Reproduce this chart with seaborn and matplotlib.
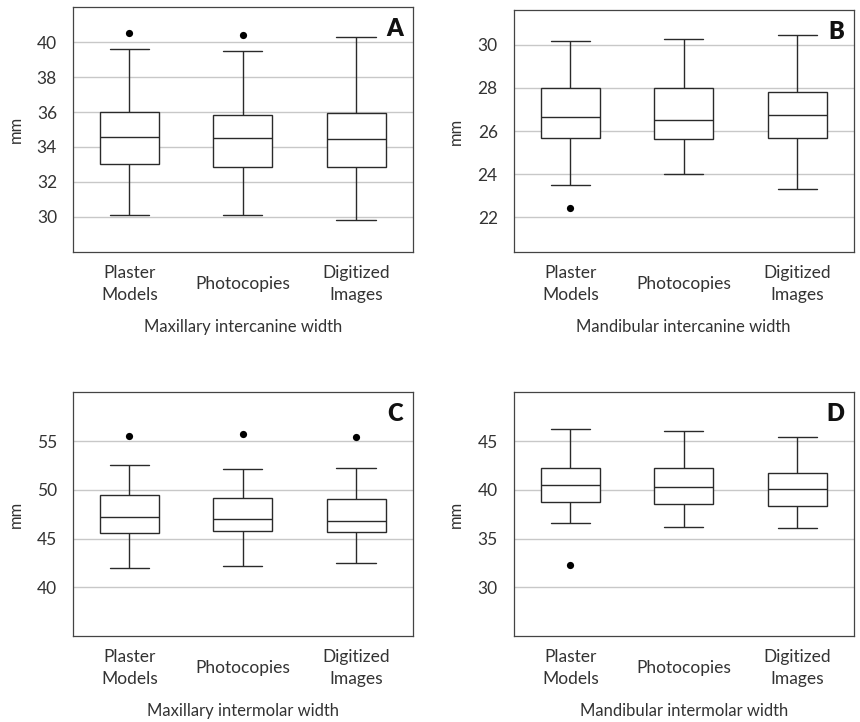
import matplotlib
matplotlib.use("Agg")
import matplotlib.pyplot as plt
import seaborn as sns
import pandas as pd

# ---------------- data ----------------
groups = ["Plaster\nModels", "Photocopies", "Digitized\nImages"]

# Panel A - Maxillary intercanine width
A_low = [30.10, 30.10, 29.81]
A_q1 = [33.05, 32.84, 32.86]
A_med = [34.59, 34.49, 34.47]
A_q3 = [36.01, 35.82, 35.93]
A_high = [39.62, 39.50, 40.31]
A_out_group = ["Plaster\nModels", "Photocopies"]
A_out_val = [40.50, 40.40]

# Panel B - Mandibular intercanine width
B_low = [23.49, 23.99, 23.30]
B_q1 = [25.67, 25.61, 25.68]
B_med = [26.67, 26.50, 26.74]
B_q3 = [27.97, 28.00, 27.80]
B_high = [30.17, 30.25, 30.43]
B_out_group = ["Plaster\nModels"]
B_out_val = [22.44]

# Panel C - Maxillary intermolar width
C_low = [42.01, 42.14, 42.45]
C_q1 = [45.54, 45.82, 45.68]
C_med = [47.21, 47.04, 46.77]
C_q3 = [49.42, 49.15, 49.01]
C_high = [52.55, 52.14, 52.21]
C_out_group = ["Plaster\nModels", "Photocopies", "Digitized\nImages"]
C_out_val = [55.48, 55.68, 55.37]

# Panel D - Mandibular intermolar width
D_low = [36.60, 36.18, 36.04]
D_q1 = [38.75, 38.58, 38.37]
D_med = [40.45, 40.31, 40.03]
D_q3 = [42.19, 42.19, 41.77]
D_high = [46.22, 46.08, 45.45]
D_out_group = ["Plaster\nModels"]
D_out_val = [32.29]

titles = ["Maxillary intercanine width", "Mandibular intercanine width",
          "Maxillary intermolar width", "Mandibular intermolar width"]
letters = ["A", "B", "C", "D"]

# ---------------- style ----------------
sns.set_style("white")
plt.rcParams["font.family"] = ["Lato", "DejaVu Sans"]
TXT = "#333333"
LINE = "#2a2a2a"
SPINE = "#444444"

fig = plt.figure(figsize=(8.6, 7.22), dpi=100)
W, H = 860.0, 722.0

# axes rectangles in pixels: left, top, right, bottom
rects = [(72.7, 7.3, 412.7, 251.7),
         (513.5, 10.0, 854.0, 252.0),
         (72.7, 392.3, 412.7, 636.0),
         (513.5, 392.3, 854.0, 636.0)]

panels = [
    (A_low, A_q1, A_med, A_q3, A_high, A_out_group, A_out_val, (28, 42), [30, 32, 34, 36, 38, 40]),
    (B_low, B_q1, B_med, B_q3, B_high, B_out_group, B_out_val, (20.4, 31.6), [22, 24, 26, 28, 30]),
    (C_low, C_q1, C_med, C_q3, C_high, C_out_group, C_out_val, (35, 60), [40, 45, 50, 55]),
    (D_low, D_q1, D_med, D_q3, D_high, D_out_group, D_out_val, (25, 50), [30, 35, 40, 45]),
]

for i, (lo, q1, med, q3, hi, og, ov, ylim, yt) in enumerate(panels):
    l, t, r, b = rects[i]
    ax = fig.add_axes([l / W, 1 - b / H, (r - l) / W, (b - t) / H])
    ax_h = b - t

    rows = []
    for g, a, b1, c, d, e in zip(groups, lo, q1, med, q3, hi):
        for v in (a, b1, c, d, e):
            rows.append({"group": g, "value": v})
    df = pd.DataFrame(rows)

    sns.boxplot(data=df, x="group", y="value", order=groups, whis=(0, 100),
                showfliers=False, width=0.52, color="white", linecolor=LINE,
                linewidth=1.0, saturation=1, capwidths=0.345, ax=ax)
    sns.stripplot(x=og, y=ov, order=groups, jitter=False, color="black",
                  size=5.2, linewidth=0, ax=ax, zorder=5)

    ax.set_xlim(-0.5, 2.5)
    ax.set_ylim(*ylim)
    ax.set_yticks(yt)
    ax.set_yticklabels([str(v) for v in yt])
    ax.set_yticks([ylim[0]], minor=True)
    ax.set_xticks([0, 1, 2])
    ax.set_xticklabels(groups, va="center", ha="center", linespacing=1.45,
                       multialignment="center")
    ax.set_xticks([-0.5, 0.5, 1.5, 2.5], minor=True)

    ax.tick_params(axis="y", which="both", direction="out", length=4.3,
                   width=0.9, color=SPINE, labelsize=12.5, labelcolor=TXT, pad=7)
    ax.tick_params(axis="x", which="major", length=0, labelsize=12.5,
                   labelcolor=TXT, pad=23)
    ax.tick_params(axis="x", which="minor", direction="out", length=4.3,
                   width=0.9, color=SPINE)

    ax.yaxis.grid(True, which="major", color="#c8c8c8", linewidth=1.0)
    ax.xaxis.grid(False)
    ax.set_axisbelow(True)

    for s in ax.spines.values():
        s.set_visible(True)
        s.set_color(SPINE)
        s.set_linewidth(0.9)

    ax.set_ylabel("mm", fontsize=12, color=TXT)
    ax.yaxis.set_label_coords(-0.145, 0.5)
    ax.set_xlabel(titles[i], fontsize=12, color=TXT)
    ax.xaxis.label.set_va("center")
    ax.xaxis.set_label_coords(0.5, -75.0 / ax_h)

    ax.text(1 - 10.0 / (r - l), 1 - 11.0 / ax_h, letters[i], transform=ax.transAxes,
            ha="right", va="top", fontsize=17, fontweight="heavy", color="#111111")

fig.savefig("out.png", dpi=100)
